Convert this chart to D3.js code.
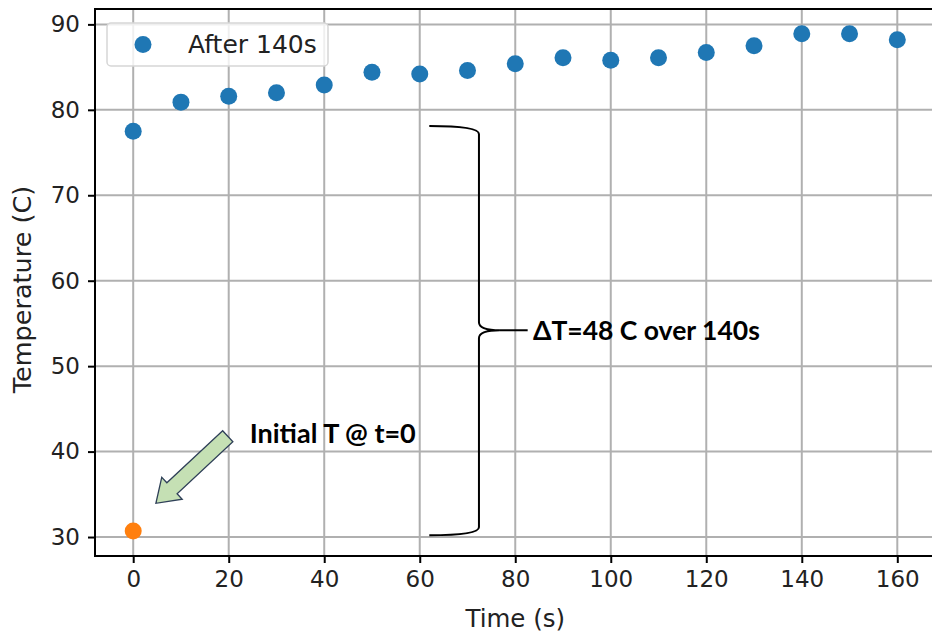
<!DOCTYPE html>
<html>
<head>
<meta charset="utf-8">
<script src="https://cdn.jsdelivr.net/npm/d3@7"></script>
<style>
  body { margin: 0; background: #fff; }
  svg { display: block; }
</style>
</head>
<body>
<div class="chart"></div>
<script>
// data
const times = [0, 10, 20, 30, 40, 50, 60, 70, 80, 90, 100, 110, 120, 130, 140, 150, 160];
const tempAfter = [77.5, 80.9, 81.6, 82.0, 82.9, 84.4, 84.2, 84.6, 85.4, 86.1, 85.8, 86.1, 86.7, 87.5, 88.9, 88.9, 88.2];
const timeInitial = [0];
const tempInitial = [30.7];
const xTicks = [0, 20, 40, 60, 80, 100, 120, 140, 160];
const yTicks = [30, 40, 50, 60, 70, 80, 90];

const W = 932, H = 635;
const pLeft = 95, pTop = 9, pRight = 935.5, pBottom = 556;

const svg = d3.select(".chart").append("svg")
              .attr("width", W)
              .attr("height", H);

// scales: matplotlib style 5% margins
const x = d3.scaleLinear().domain([-8, 168]).range([pLeft, pRight]);
const y = d3.scaleLinear().domain([27.78, 91.8]).range([pBottom, pTop]);

const font = "DejaVu Sans, sans-serif";

// grid
svg.append("g").selectAll("line").data(xTicks).enter().append("line")
   .attr("x1", d => x(d)).attr("x2", d => x(d))
   .attr("y1", pTop).attr("y2", pBottom)
   .attr("stroke", "#b0b0b0").attr("stroke-width", 2);
svg.append("g").selectAll("line").data(yTicks).enter().append("line")
   .attr("x1", pLeft).attr("x2", pRight)
   .attr("y1", d => y(d)).attr("y2", d => y(d))
   .attr("stroke", "#b0b0b0").attr("stroke-width", 2);

// axes
const xAxis = svg.append("g")
   .attr("transform", `translate(0,${pBottom})`)
   .call(d3.axisBottom(x).tickValues(xTicks).tickSize(7).tickPadding(8).tickFormat(d3.format("d")));
const yAxis = svg.append("g")
   .attr("transform", `translate(${pLeft},0)`)
   .call(d3.axisLeft(y).tickValues(yTicks).tickSize(7).tickPadding(8).tickFormat(d3.format("d")));

[xAxis, yAxis].forEach(a => {
  a.select(".domain").remove();
  a.selectAll(".tick line").attr("stroke", "#000").attr("stroke-width", 2);
  a.selectAll(".tick text").attr("font-family", font).attr("font-size", 23).attr("fill", "#222");
});

// spines
svg.append("rect")
   .attr("x", pLeft).attr("y", pTop)
   .attr("width", pRight - pLeft).attr("height", pBottom - pTop)
   .attr("fill", "none").attr("stroke", "#000").attr("stroke-width", 2);

// axis labels
svg.append("text")
   .text("Time (s)")
   .attr("x", (pLeft + pRight) / 2).attr("y", 627)
   .attr("text-anchor", "middle")
   .attr("font-family", font).attr("font-size", 24.5).attr("fill", "#222");
svg.append("text")
   .text("Temperature (C)")
   .attr("transform", `translate(31,${(pTop + pBottom) / 2 + 7}) rotate(-90)`)
   .attr("text-anchor", "middle")
   .attr("font-family", font).attr("font-size", 25.5).attr("fill", "#222");

// points
svg.append("g").selectAll("circle").data(times).enter().append("circle")
   .attr("cx", d => x(d))
   .attr("cy", (d, i) => y(tempAfter[i]))
   .attr("r", 8.5)
   .attr("fill", "#1f77b4");
svg.append("g").selectAll("circle").data(timeInitial).enter().append("circle")
   .attr("cx", d => x(d))
   .attr("cy", (d, i) => y(tempInitial[i]))
   .attr("r", 8.5)
   .attr("fill", "#ff7f0e");

// legend
const lg = svg.append("g");
lg.append("rect")
   .attr("x", 107).attr("y", 23).attr("width", 221).attr("height", 43)
   .attr("rx", 4)
   .attr("fill", "#fff").attr("fill-opacity", 0.8)
   .attr("stroke", "#d6d6d6").attr("stroke-width", 1.5);
lg.append("circle")
   .attr("cx", 143).attr("cy", 44.5).attr("r", 8.5).attr("fill", "#1f77b4");
lg.append("text")
   .text("After 140s")
   .attr("x", 188).attr("y", 44.5).attr("dy", "0.35em")
   .attr("font-family", font).attr("font-size", 25).attr("fill", "#222");

// annotation: block arrow pointing at the initial point
const tip = [x(4.75), y(33.95)], tail = [x(19.8), y(41.8)];
const dx = tip[0] - tail[0], dy = tip[1] - tail[1];
const len = Math.hypot(dx, dy);
const ux = dx / len, uy = dy / len, nx = -uy, ny = ux;
const shaftW = 7.5, headW = 15, headL = 22;
const base = [tip[0] - ux * headL, tip[1] - uy * headL];
const pt = (p, k) => [p[0] + nx * k, p[1] + ny * k];
const arrowPts = [pt(tail, shaftW), pt(base, shaftW), pt(base, headW), tip,
                  pt(base, -headW), pt(base, -shaftW), pt(tail, -shaftW)];
svg.append("polygon")
   .attr("points", arrowPts.map(p => p.join(",")).join(" "))
   .attr("fill", "#c5e0b4").attr("stroke", "#2f4058").attr("stroke-width", 1.3)
   .attr("stroke-linejoin", "miter");

svg.append("text")
   .text("Initial T @ t=0")
   .attr("x", x(24.4)).attr("y", y(42.1))
   .attr("dy", "0.35em")
   .attr("font-family", "Lato, sans-serif").attr("font-weight", "bold")
   .attr("font-size", 27).attr("fill", "#000");

// brace for delta T
const bx0 = x(62), bx1 = x(72.4), bx2 = x(76.8), bx3 = x(82.6);
const by0 = y(78.1), by1 = y(54.2), by2 = y(30.2);
const brace = d3.path();
brace.moveTo(bx0, by0);
brace.quadraticCurveTo(bx1, by0, bx1, by0 + 8);
brace.lineTo(bx1, by1 - 8);
brace.quadraticCurveTo(bx1, by1, bx2, by1);
brace.quadraticCurveTo(bx1, by1, bx1, by1 + 8);
brace.lineTo(bx1, by2 - 8);
brace.quadraticCurveTo(bx1, by2, bx0, by2);
svg.append("path")
   .attr("d", brace.toString())
   .attr("fill", "none").attr("stroke", "#000").attr("stroke-width", 2);
svg.append("line")
   .attr("x1", bx2).attr("x2", bx3).attr("y1", by1).attr("y2", by1)
   .attr("stroke", "#000").attr("stroke-width", 2);

svg.append("text")
   .text("ΔT=48 C over 140s")
   .attr("x", x(83.7)).attr("y", by1)
   .attr("dy", "0.35em")
   .attr("font-family", "Lato, sans-serif").attr("font-weight", "bold")
   .attr("font-size", 26.5).attr("fill", "#000");
</script>
</body>
</html>
